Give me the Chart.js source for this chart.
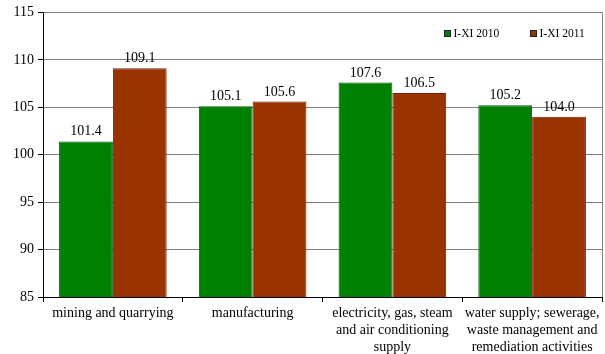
<!DOCTYPE html>
<html>
<head>
<meta charset="utf-8">
<script src="https://cdn.jsdelivr.net/npm/chart.js@4/dist/chart.umd.min.js"></script>
<style>
  html, body { margin: 0; padding: 0; background: #fff; }
  #wrap { position: relative; width: 605px; height: 354px; }
</style>
</head>
<body>
<div id="wrap"><canvas id="c" width="605" height="354"></canvas></div>
<script>
// Industry groups on the category axis (wrapped into lines)
const categories = [
  ['mining and quarrying'],
  ['manufacturing'],
  ['electricity, gas, steam', 'and air conditioning', 'supply'],
  ['water supply; sewerage,', 'waste management and', 'remediation activities']
];
// Production indices, corresponding period of previous year = 100
const seriesNames = ['I-XI 2010', 'I-XI 2011'];
const values2010 = [101.4, 105.1, 107.6, 105.2];
const values2011 = [109.1, 105.6, 106.5, 104.0];
const yTicks = [85, 90, 95, 100, 105, 110, 115];
const subtitle = '(corresponding period of previous year = 100)';

const FONT = '"Liberation Serif", "Times New Roman", serif';
const fills = ['#008000', '#993300'];
const edges = ['#005c00', '#7a1f00'];

// Numbers printed above every bar
const valueLabels = {
  id: 'valueLabels',
  afterDatasetsDraw(chart) {
    const ctx = chart.ctx;
    ctx.save();
    ctx.font = '14px ' + FONT;
    ctx.fillStyle = '#000';
    ctx.textAlign = 'center';
    ctx.textBaseline = 'alphabetic';
    chart.data.datasets.forEach((ds, i) => {
      chart.getDatasetMeta(i).data.forEach((bar, j) => {
        ctx.fillText(ds.data[j].toFixed(1), bar.x, bar.y - 6);
      });
    });
    ctx.restore();
  }
};

// Frame, legend inside the plot and the heading line
const decorations = {
  id: 'decorations',
  afterDraw(chart) {
    const ctx = chart.ctx;
    const a = chart.chartArea;
    ctx.save();
    // right frame edge
    ctx.strokeStyle = '#808080';
    ctx.lineWidth = 1;
    ctx.beginPath();
    ctx.moveTo(Math.round(a.right) + 0.5, a.top);
    ctx.lineTo(Math.round(a.right) + 0.5, a.bottom);
    ctx.stroke();

    // legend
    ctx.font = '11.5px ' + FONT;
    ctx.textBaseline = 'middle';
    ctx.textAlign = 'left';
    const lx = [444.5, 530.5];
    chart.data.datasets.forEach((ds, i) => {
      const x = lx[i], y = 30.5;
      ctx.fillStyle = ds.backgroundColor;
      ctx.fillRect(x, y, 6, 6);
      ctx.strokeStyle = '#222';
      ctx.strokeRect(x, y, 6, 6);
      ctx.fillStyle = '#000';
      ctx.fillText(ds.label, x + 9, y + 3);
    });

    // heading (runs off the top edge)
    ctx.font = '17px ' + FONT;
    ctx.textAlign = 'center';
    ctx.textBaseline = 'alphabetic';
    ctx.fillText(subtitle, 321, -4);
    ctx.restore();
  }
};

new Chart(document.getElementById('c'), {
  type: 'bar',
  data: {
    labels: categories,
    datasets: [
      { label: seriesNames[0], data: values2010, backgroundColor: fills[0], borderColor: edges[0], borderWidth: 1 },
      { label: seriesNames[1], data: values2011, backgroundColor: fills[1], borderColor: edges[1], borderWidth: 1 }
    ]
  },
  options: {
    responsive: false,
    animation: false,
    devicePixelRatio: 1,
    layout: { padding: { top: 11, right: 3, left: 0, bottom: 0 } },
    plugins: {
      legend: { display: false },
      tooltip: { enabled: false },
      title: { display: false }
    },
    datasets: { bar: { categoryPercentage: 0.77, barPercentage: 1.0 } },
    scales: {
      x: {
        offset: true,
        grid: { offset: true, drawOnChartArea: false, drawTicks: true, tickLength: 5, tickColor: '#000' },
        border: { display: true, color: '#000', width: 1 },
        ticks: { color: '#000', font: { family: FONT, size: 14 }, padding: 3, maxRotation: 0, autoSkip: false },
        afterFit(scale) { scale.height = 57; }
      },
      y: {
        min: 85, max: 115,
        afterBuildTicks(scale) { scale.ticks = yTicks.map(v => ({ value: v })); },
        grid: { color: '#808080', tickColor: '#000', tickLength: 5, lineWidth: 1 },
        border: { display: true, color: '#000', width: 1 },
        ticks: { color: '#000', font: { family: FONT, size: 14 }, padding: 4 },
        afterFit(scale) { scale.width = 43; }
      }
    }
  },
  plugins: [valueLabels, decorations]
});
</script>
</body>
</html>
